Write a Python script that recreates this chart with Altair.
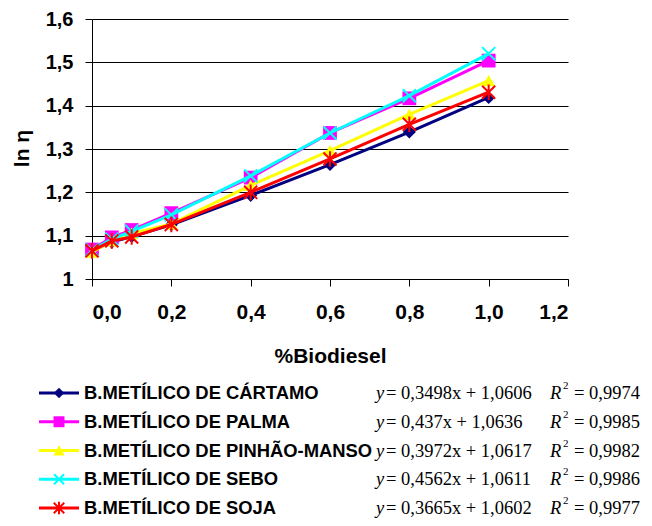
import altair as alt
import pandas as pd

# ---------------- data ----------------
x_vals = [0.0, 0.05, 0.1, 0.2, 0.4, 0.6, 0.8, 1.0]

series = [
    "B.METÍLICO DE CÁRTAMO",
    "B.METÍLICO DE PALMA",
    "B.METÍLICO DE PINHÃO-MANSO",
    "B.METÍLICO DE SEBO",
    "B.METÍLICO DE SOJA",
]

cartamo = [1.066, 1.085, 1.098, 1.125, 1.193, 1.264, 1.339, 1.419]
palma = [1.068, 1.096, 1.113, 1.152, 1.234, 1.337, 1.417, 1.504]
pinhao = [1.062, 1.088, 1.105, 1.127, 1.216, 1.296, 1.380, 1.458]
sebo = [1.067, 1.092, 1.110, 1.148, 1.238, 1.337, 1.423, 1.520]
soja = [1.065, 1.088, 1.097, 1.126, 1.200, 1.277, 1.357, 1.431]
values = [cartamo, palma, pinhao, sebo, soja]

equations = [
    "= 0,3498x + 1,0606",
    "= 0,437x + 1,0636",
    "= 0,3972x + 1,0617",
    "= 0,4562x + 1,0611",
    "= 0,3665x + 1,0602",
]
r2_values = ["= 0,9974", "= 0,9985", "= 0,9982", "= 0,9986", "= 0,9977"]

y_ticks = [1.0, 1.1, 1.2, 1.3, 1.4, 1.5, 1.6]
x_ticks = [0.0, 0.2, 0.4, 0.6, 0.8, 1.0, 1.2]

# ---------------- styles ----------------
colors = ["#000080", "#FF00FF", "#FFFF00", "#00FFFF", "#FF0000"]
X_PATH = "M-1,-1L1,1M-1,1L1,-1"
AST_PATH = "M-1,-1L1,1M-1,1L1,-1M0,-1.2L0,1.2"
shapes = ["diamond", "square", "triangle-up", X_PATH, AST_PATH]
filled = [True, True, True, False, False]
sizes = [170, 190, 170, 170, 170]
leg_sizes = [110, 120, 130, 100, 110]

FONT = "Liberation Sans"
SERIF = "Liberation Serif"

X = alt.X(
    "x:Q",
    scale=alt.Scale(domain=[0, 1.2], nice=False, zero=False),
    axis=alt.Axis(
        values=x_ticks,
        labelExpr="replace(format(datum.value, '.1f'), '.', ',')",
        grid=False,
        domainColor="black",
        tickColor="black",
        tickSize=7,
        labelFont=FONT,
        labelFontSize=21,
        labelFontWeight="bold",
        labelColor="black",
        labelPadding=15,
        title="%Biodiesel",
        titleFont=FONT,
        titleFontSize=21,
        titleFontWeight="bold",
        titleColor="black",
        titleY=77,
        titleBaseline="middle",
    ),
)
Y = alt.Y(
    "y:Q",
    scale=alt.Scale(domain=[1.0, 1.6], nice=False, zero=False),
    axis=alt.Axis(
        values=y_ticks,
        labelExpr="datum.value == 1 ? '1' : replace(format(datum.value, '.1f'), '.', ',')",
        grid=True,
        gridColor="black",
        gridWidth=1,
        gridOpacity=1,
        domainColor="black",
        tickColor="black",
        tickSize=7,
        labelFont=FONT,
        labelFontSize=20,
        labelFontWeight="bold",
        labelColor="black",
        labelPadding=12,
        title="ln η",
        titleFont=FONT,
        titleFontSize=21,
        titleFontWeight="bold",
        titleColor="black",
        titleX=-70,
        titleY=129,
        titleAngle=270,
        titleAlign="center",
        titleBaseline="middle",
    ),
)

main_layers = []
for i, name in enumerate(series):
    df = pd.DataFrame({"x": x_vals, "y": values[i]})
    base = alt.Chart(df)
    main_layers.append(base.mark_line(color=colors[i], strokeWidth=3).encode(x=X, y=Y))
    main_layers.append(
        base.mark_point(
            shape=shapes[i],
            filled=filled[i],
            color=colors[i],
            size=sizes[i],
            strokeWidth=2 if not filled[i] else 1,
            opacity=1,
        ).encode(x=X, y=Y)
    )
main = alt.layer(*main_layers)

# ---------------- legend ----------------
leg_df = pd.DataFrame({"series": series, "eq": equations, "r2": r2_values})
LY = alt.Y(
    "series:N",
    scale=alt.Scale(type="point", domain=series, range=[374, 489], padding=0),
    axis=None,
)
COL = alt.Color("series:N", scale=alt.Scale(domain=series, range=colors), legend=None)
lb = alt.Chart(leg_df)
legend_layers = [
    lb.mark_rule(strokeWidth=3).encode(x=alt.value(-53), x2=alt.value(-13), y=LY, color=COL),
]
for i, name in enumerate(series):
    one = alt.Chart(pd.DataFrame({"series": [name]}))
    legend_layers.append(
        one.mark_point(
            shape=shapes[i],
            filled=filled[i],
            color=colors[i],
            size=leg_sizes[i],
            strokeWidth=2 if not filled[i] else 1,
            opacity=1,
        ).encode(x=alt.value(-33), y=LY)
    )
legend_layers += [
    lb.mark_text(align="left", baseline="middle", font=FONT, fontSize=18.4,
                 fontWeight="bold", color="black").encode(
        x=alt.value(-8), y=LY, text="series:N"),
    lb.mark_text(align="left", baseline="middle", font=SERIF, fontSize=18.5,
                 fontStyle="italic", color="black", text="y").encode(
        x=alt.value(284), y=LY),
    lb.mark_text(align="left", baseline="middle", font=SERIF, fontSize=18.5,
                 color="black").encode(x=alt.value(294), y=LY, text="eq:N"),
    lb.mark_text(align="left", baseline="middle", font=SERIF, fontSize=18.5,
                 fontStyle="italic", color="black", text="R").encode(
        x=alt.value(458), y=LY),
    lb.mark_text(align="left", baseline="middle", font=SERIF, fontSize=11,
                 color="black", text="2", dy=-7).encode(
        x=alt.value(471), y=LY),
    lb.mark_text(align="left", baseline="middle", font=SERIF, fontSize=18.5,
                 color="black").encode(x=alt.value(482), y=LY, text="r2:N"),
]
legend = alt.layer(*legend_layers)

chart = (
    alt.layer(main, legend)
    .resolve_scale(y="independent", color="independent")
    .properties(
        width=476,
        height=260,
        autosize=alt.AutoSizeParams(type="none"),
        padding={"left": 84, "top": 11, "right": 76, "bottom": 239},
        background="white",
    )
    .configure_view(stroke=None)
)

chart.save("out.html", embed_options={"renderer": "svg", "actions": False})
